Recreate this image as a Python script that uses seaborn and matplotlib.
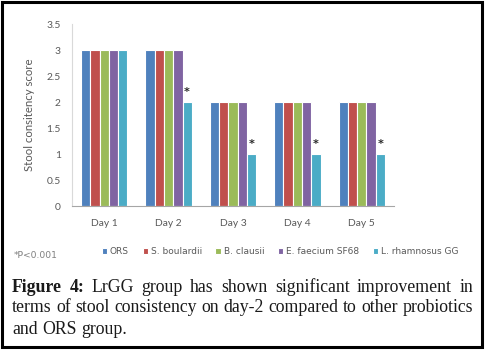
import matplotlib
matplotlib.use("Agg")
import matplotlib.pyplot as plt
import seaborn as sns
import pandas as pd
from matplotlib.patches import Rectangle

# ---- data ----
days = ["Day 1", "Day 2", "Day 3", "Day 4", "Day 5"]
groups = ["ORS", "S. boulardii", "B. clausii", "E. faecium SF68", "L. rhamnosus GG"]
ors = [3, 3, 2, 2, 2]
s_boulardii = [3, 3, 2, 2, 2]
b_clausii = [3, 3, 2, 2, 2]
e_faecium = [3, 3, 2, 2, 2]
l_rhamnosus = [3, 2, 1, 1, 1]
significant = [False, True, True, True, True]  # asterisk on L. rhamnosus GG
yticks = [0, 0.5, 1, 1.5, 2, 2.5, 3, 3.5]
ytick_labels = ["0", "0.5", "1", "1.5", "2", "2.5", "3", "3.5"]
colors = ["#4F81BD", "#C0504D", "#9BBB59", "#8064A2", "#4BACC6"]

series = [ors, s_boulardii, b_clausii, e_faecium, l_rhamnosus]
rows = []
for g, vals in zip(groups, series):
    for d, v in zip(days, vals):
        rows.append({"Day": d, "Group": g, "Score": v})
df = pd.DataFrame(rows)

sns.set_theme(style="white")
plt.rcParams["font.family"] = ["Lato", "DejaVu Sans"]

fig = plt.figure(figsize=(4.88, 3.56), dpi=100)
ax = fig.add_axes([72/488, 1-206/356, (394-72)/488, (206-24)/356])

sns.barplot(data=df, x="Day", y="Score", hue="Group", order=days, hue_order=groups,
            palette=colors, width=0.72, saturation=1, edgecolor="white", linewidth=0.8,
            ax=ax, errorbar=None)

ax.set_ylim(0, 3.5)
ax.set_yticks(yticks)
ax.set_yticklabels(ytick_labels)
ax.tick_params(axis="both", length=0, labelsize=7.4, colors="#595959")
ax.tick_params(axis="y", pad=8)
ax.tick_params(axis="x", pad=9)
ax.set_xlabel("")
ax.set_ylabel("Stool consitency score", fontsize=8.2, color="#595959", labelpad=8)
for s in ["top", "right"]:
    ax.spines[s].set_visible(False)
ax.spines["left"].set_color("#d9d9d9")
ax.spines["bottom"].set_color("#a6a6a6")
ax.spines["left"].set_linewidth(0.8)
ax.spines["bottom"].set_linewidth(0.8)

# asterisks above the L. rhamnosus GG bars
lgg_bars = ax.containers[4]
for bar, sig in zip(lgg_bars, significant):
    if sig:
        ax.text(bar.get_x() + bar.get_width()/2, bar.get_height() + 0.2, "*",
                ha="center", va="center", fontsize=8, fontweight="bold",
                color="#262626", family="DejaVu Sans")

handles, labels = ax.get_legend_handles_labels()
ax.get_legend().remove()
fig.legend(handles, labels, loc="center", bbox_to_anchor=(280/488, 1-252/356),
           ncol=5, frameon=False, prop={"family": "DejaVu Sans", "size": 6.5},
           labelcolor="#595959", handlelength=0.6, handleheight=0.6,
           handletextpad=0.3, columnspacing=1.5)

fig.text(14/488, 1-256/356, "*P<0.001", fontsize=6.6, color="#7f7f7f",
         family="DejaVu Sans", ha="left", va="center")

# caption, justified
serif = "Liberation Serif"
cap_size = 12.8
lines = [
    ([("Figure", True), ("4:", True), ("LrGG", False), ("group", False), ("has", False),
      ("shown", False), ("significant", False), ("improvement", False), ("in", False)], True),
    ([("terms", False), ("of", False), ("stool", False), ("consistency", False), ("on", False),
      ("day-2", False), ("compared", False), ("to", False), ("other", False),
      ("probiotics", False)], True),
    ([("and", False), ("ORS", False), ("group.", False)], False),
]
line_y = [287, 308, 329]
x0, x1 = 12, 473
fig.canvas.draw()
renderer = fig.canvas.get_renderer()
for (words, justify), yy in zip(lines, line_y):
    objs = []
    for w, b in words:
        t = fig.text(0, 1-yy/356, w, fontsize=cap_size, family=serif,
                     fontweight="bold" if b else "normal", color="#1a1a1a",
                     ha="left", va="center")
        objs.append(t)
    widths = [t.get_window_extent(renderer).width for t in objs]
    if justify:
        gap = (x1 - x0 - sum(widths)) / (len(objs) - 1)
    else:
        sp = fig.text(0, 0, "a a", fontsize=cap_size, family=serif)
        sp2 = fig.text(0, 0, "aa", fontsize=cap_size, family=serif)
        gap = sp.get_window_extent(renderer).width - sp2.get_window_extent(renderer).width
        sp.remove(); sp2.remove()
    x = x0
    for t, w in zip(objs, widths):
        t.set_x(x/488)
        x += w + gap

# outer frame
fig.patches.append(Rectangle((1.5/488, (356-346.5)/356), 480/488, 345/356,
                             transform=fig.transFigure, fill=False,
                             edgecolor="black", linewidth=2.2))

fig.savefig("out.png", dpi=100)
